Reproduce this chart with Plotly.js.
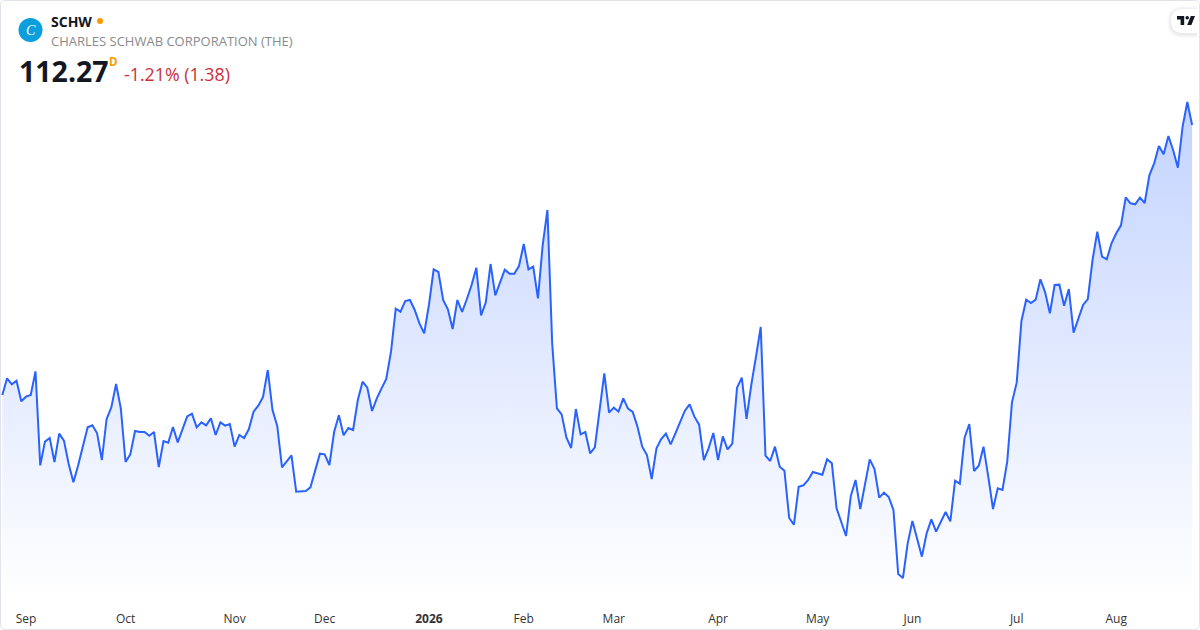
<!DOCTYPE html>
<html><head><meta charset="utf-8">
<script src="https://cdn.plot.ly/plotly-3.0.1.min.js"></script>
<style>html,body{margin:0;padding:0;background:#fff;overflow:hidden}#chart{width:1200px;height:630px}</style>
</head><body><div id="chart"></div>
<script>
const closes = [
96.07,97.07,96.71,96.93,95.69,95.97,96.07,97.49,91.85,93.27,93.49,92.05,93.75,93.33,91.93,90.83,91.85,93.07,94.13,94.25,
93.77,92.17,94.63,95.33,96.73,95.27,92.05,92.51,93.91,93.85,93.85,93.63,93.85,91.75,93.31,93.21,94.15,93.23,93.97,94.79,
94.95,94.13,94.43,94.25,94.67,93.67,94.43,94.23,94.33,92.97,93.67,93.49,94.01,95.07,95.43,95.95,97.57,95.17,94.21,91.73,
92.09,92.45,90.27,90.29,90.31,90.53,91.57,92.55,92.51,91.87,93.85,94.85,93.65,94.09,93.97,95.77,96.87,96.51,95.11,95.87,
96.47,97.03,98.67,101.25,101.07,101.71,101.77,101.17,100.37,99.77,101.47,103.61,103.45,101.77,101.21,100.03,101.77,101.05,101.83,102.67,
103.71,100.85,101.63,103.93,102.05,102.83,103.59,103.35,103.35,103.81,105.13,103.61,103.77,101.87,105.07,107.17,99.17,95.27,94.91,93.53,
92.89,95.23,93.71,93.85,92.57,92.93,95.17,97.37,95.01,95.31,95.07,95.87,95.25,95.05,94.17,92.97,92.47,91.03,92.87,93.43,
93.75,93.11,93.77,94.43,95.13,95.51,94.77,94.29,92.17,92.87,93.79,92.17,93.59,92.81,93.15,96.51,97.11,94.63,96.67,98.37,
100.15,92.43,92.11,92.97,91.77,91.53,88.69,88.29,90.57,90.65,90.97,91.45,91.35,91.29,92.21,91.97,89.27,88.37,87.61,90.01,
90.97,89.23,90.77,92.21,91.63,89.91,90.21,89.95,89.17,85.33,85.09,87.17,88.51,87.41,86.37,87.77,88.61,87.87,88.51,89.05,
88.49,90.93,90.75,93.51,94.33,91.51,91.83,92.97,91.17,89.23,90.47,90.37,92.07,95.63,96.81,100.51,101.79,101.59,101.79,103.01,
102.23,100.97,102.67,102.69,101.43,102.43,99.81,100.67,101.47,101.83,104.17,105.87,104.37,104.21,105.17,105.77,106.25,107.93,107.57,107.51,
107.91,107.59,109.27,109.97,111.01,110.51,111.61,110.77,109.71,112.17,113.65,112.27
];
const tickSessions = [5,26,49,68,90,110,129,151,172,192,214,235];
const tickLabels = ['Sep','Oct','Nov','Dec','<b>2026</b>','Feb','Mar','Apr','May','Jun','Jul','Aug'];
const ticker = 'SCHW';
const companyName = 'CHARLES SCHWAB CORPORATION (THE)';
const lastPrice = '112.27';
const changeText = '-1.21% (1.38)';

const sessions = closes.map((_, i) => i);
const PLOT_H = 600;
const px = x => x / 1200;
const py = y => 1 - y / PLOT_H;
const pt = (x, y) => px(x) + ',' + py(y);
const FONT = '"Open Sans", sans-serif';

function roundRectPath(x0, y0, x1, y1, r) {
  return 'M' + pt(x0 + r, y0) + ' L' + pt(x1 - r, y0) + ' Q' + pt(x1, y0) + ' ' + pt(x1, y0 + r) +
    ' L' + pt(x1, y1 - r) + ' Q' + pt(x1, y1) + ' ' + pt(x1 - r, y1) + ' L' + pt(x0 + r, y1) +
    ' Q' + pt(x0, y1) + ' ' + pt(x0, y1 - r) + ' L' + pt(x0, y0 + r) + ' Q' + pt(x0, y0) + ' ' + pt(x0 + r, y0) + ' Z';
}
function pillPath(x0, y0, x1, y1, r) {
  return 'M' + pt(x1, y0) + ' L' + pt(x0 + r, y0) + ' Q' + pt(x0, y0) + ' ' + pt(x0, y0 + r) +
    ' L' + pt(x0, y1 - r) + ' Q' + pt(x0, y1) + ' ' + pt(x0 + r, y1) + ' L' + pt(x1, y1) + ' Z';
}
function tv(u, v) { return pt(1177 + (u - 2) * 0.6, 16 + (v - 6) * 0.6); }
const tvPath = 'M' + tv(14,6) + ' L' + tv(2,6) + ' L' + tv(2,12) + ' L' + tv(8,12) + ' L' + tv(8,21) + ' L' + tv(14,21) + ' Z ' +
  'M' + tv(26,21) + ' L' + tv(19,21) + ' L' + tv(25,6) + ' L' + tv(32,6) + ' Z ' +
  'M' + tv(19,6) + ' Q' + tv(22,6) + ' ' + tv(22,9) + ' Q' + tv(22,12) + ' ' + tv(19,12) + ' Q' + tv(16,12) + ' ' + tv(16,9) + ' Q' + tv(16,6) + ' ' + tv(19,6) + ' Z';

const shadows = [4, 3, 2, 1].map(s => ({
  type: 'path', xref: 'paper', yref: 'paper', layer: 'above',
  path: pillPath(1171 - s, 9 - s + 1, 1197, 33 + s + 1, 12 + s),
  fillcolor: 'rgba(0,0,0,0.018)', line: {width: 0}
}));

const layout = {
  width: 1200, height: 630,
  margin: {l: 0, r: 0, t: 0, b: 30, pad: 0},
  paper_bgcolor: '#ffffff', plot_bgcolor: '#ffffff',
  showlegend: false, hovermode: false,
  font: {family: FONT},
  xaxis: {
    range: [-0.49, 252.67], tickmode: 'array', tickvals: tickSessions, ticktext: tickLabels,
    showgrid: false, zeroline: false, showline: false, ticks: 'outside', ticklen: 8, tickcolor: 'rgba(0,0,0,0)',
    tickfont: {family: FONT, size: 12, color: '#333333'}, fixedrange: true
  },
  yaxis: {
    range: [83.77, 119.77], visible: false, showgrid: false, zeroline: false, fixedrange: true
  },
  shapes: [
    ...shadows,
    {type: 'path', xref: 'paper', yref: 'paper', layer: 'above', path: pillPath(1171, 9, 1197, 33, 12), fillcolor: '#ffffff', line: {width: 0}},
    {type: 'path', xref: 'paper', yref: 'paper', layer: 'above', path: tvPath, fillcolor: '#131722', line: {width: 0}},
    {type: 'path', xref: 'paper', yref: 'paper', layer: 'above', path: roundRectPath(0.5, 0.5, 1199.5, 629.5, 5), fillcolor: 'rgba(0,0,0,0)', line: {color: '#e0e3eb', width: 1}},
    {type: 'circle', xref: 'paper', yref: 'paper', layer: 'above', x0: px(18.5), x1: px(42.5), y0: py(42), y1: py(18), fillcolor: '#0a9fdc', line: {width: 0}},
    {type: 'circle', xref: 'paper', yref: 'paper', layer: 'above', x0: px(97), x1: px(103), y0: py(24), y1: py(18), fillcolor: '#ff9800', line: {width: 0}}
  ],
  annotations: [
    {text: '<i>C</i>', x: px(30.5), y: py(30), xanchor: 'center', yanchor: 'middle', font: {family: '"Liberation Serif", serif', size: 14, color: '#ffffff'}},
    {text: '<b>' + ticker + '</b>', x: px(50), y: py(21), xanchor: 'left', yanchor: 'middle', font: {family: FONT, size: 14, color: '#131722'}},
    {text: companyName, x: px(50), y: py(40.5), xanchor: 'left', yanchor: 'middle', font: {family: FONT, size: 13, color: '#8a8a8a'}},
    {text: '<b>' + lastPrice + '</b>', x: px(17.5), y: py(71), xanchor: 'left', yanchor: 'middle', font: {family: FONT, size: 28.5, color: '#131722'}},
    {text: '<b>D</b>', x: px(108), y: py(61), xanchor: 'left', yanchor: 'middle', font: {family: FONT, size: 11.5, color: '#ff9800'}},
    {text: changeText, x: px(123), y: py(74.5), xanchor: 'left', yanchor: 'middle', font: {family: FONT, size: 17.8, color: '#cc2f3c'}}
  ].map(a => Object.assign({xref: 'paper', yref: 'paper', showarrow: false, borderpad: 0}, a))
};

const trace = {
  type: 'scatter', mode: 'lines', x: sessions, y: closes,
  line: {color: '#2962ff', width: 2, shape: 'linear'},
  fill: 'tozeroy',
  fillgradient: {
    type: 'vertical',
    start: 113.65, stop: 83.77,
    colorscale: [[0, 'rgba(41,98,255,0.28)'], [1, 'rgba(41,98,255,0)']]
  },
  fillcolor: 'rgba(41,98,255,0.1)',
  hoverinfo: 'skip'
};
Plotly.newPlot('chart', [trace], layout, {displayModeBar: false, staticPlot: true});
</script></body></html>
